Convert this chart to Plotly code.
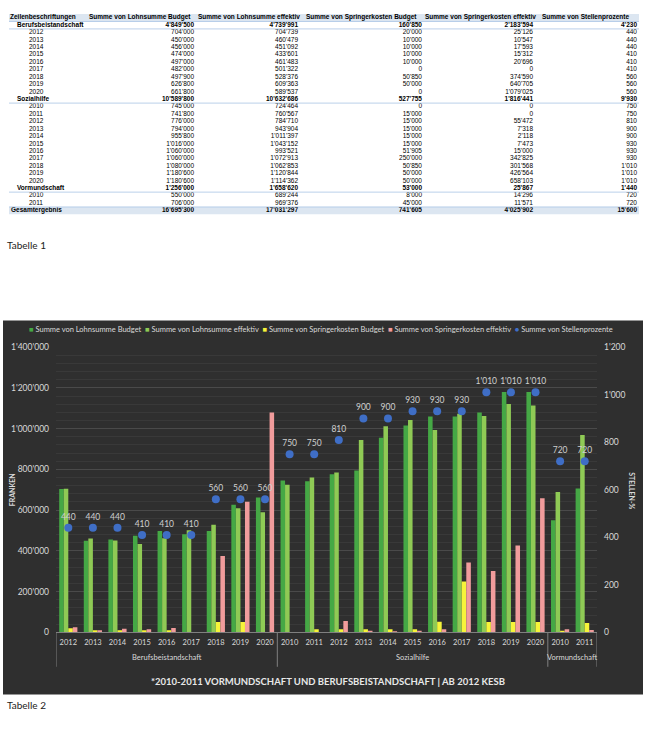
import plotly.graph_objects as go

# ---------------- data ----------------
groups = ["Berufsbeistandschaft"] * 9 + ["Sozialhilfe"] * 11 + ["Vormundschaft"] * 2
years = ["2012", "2013", "2014", "2015", "2016", "2017", "2018", "2019", "2020",
         "2010", "2011", "2012", "2013", "2014", "2015", "2016", "2017", "2018", "2019", "2020",
         "2010", "2011"]
lohn_budget = [704000, 450000, 456000, 474000, 497000, 482000, 497900, 626800, 661800,
               745000, 741800, 776000, 794000, 955800, 1016000, 1060000, 1060000, 1080000, 1180600, 1180600,
               550000, 706000]
lohn_eff = [704739, 460479, 451092, 433601, 461483, 501322, 528376, 609363, 589537,
            724464, 760567, 784710, 943904, 1011397, 1043152, 993521, 1072913, 1062853, 1120844, 1114362,
            689244, 969376]
springer_budget = [20000, 10000, 10000, 10000, 10000, 0, 50850, 50000, 0,
                   0, 15000, 15000, 15000, 15000, 15000, 51905, 250000, 50850, 50000, 50000,
                   8000, 45000]
springer_eff = [25126, 10547, 17593, 15312, 20696, 0, 374590, 640705, 1079025,
                0, 0, 55472, 7318, 2118, 7473, 15000, 342825, 301568, 426564, 658103,
                14296, 11571]
stellen = [440, 440, 440, 410, 410, 410, 560, 560, 560,
           750, 750, 810, 900, 900, 930, 930, 930, 1010, 1010, 1010,
           720, 720]

group_names = ["Berufsbeistandschaft", "Sozialhilfe", "Vormundschaft"]
group_lohn_budget = [4849500, 10589800, 1256000]
group_lohn_eff = [4739991, 10632686, 1658620]
group_springer_budget = [160850, 527755, 53000]
group_springer_eff = [2183594, 1816441, 25867]
group_stellen = [4230, 9930, 1440]
grand_total = [16695300, 17031297, 741605, 4025902, 15600]

series_names = ["Summe von Lohnsumme Budget", "Summe von Lohnsumme effektiv",
                "Summe von Springerkosten Budget", "Summe von Springerkosten effektiv",
                "Summe von Stellenprozente"]
row_header = "Zeilenbeschriftungen"
total_label = "Gesamtergebnis"
chart_note = "*2010-2011 VORMUNDSCHAFT UND BERUFSBEISTANDSCHAFT | AB 2012 KESB"
left_title = "FRANKEN"
right_title = "STELLEN-%"
caption1 = "Tabelle 1"
caption2 = "Tabelle 2"

# ---------------- styles ----------------
W, H = 651, 729
colors = ["#45a845", "#8fca55", "#f6f43a", "#f19c9c", "#3f6ec6"]
FONT = "Lato, 'Open Sans', sans-serif"
TFONT = "'Liberation Sans', Arial, sans-serif"
light = "#d9d9d9"


def px_x(p):
    return p / W


def px_y(p):
    return (H - p) / H


def fmt(n):
    return f"{n:,}".replace(",", "'")


fig = go.Figure()

# ---------------- table (Tabelle 1) ----------------
series_cols = [lohn_budget, lohn_eff, springer_budget, springer_eff, stellen]
group_cols = [group_lohn_budget, group_lohn_eff, group_springer_budget, group_springer_eff, group_stellen]

labels, kinds, cols_text = [], [], [[] for _ in range(5)]
start = 0
for gi, g in enumerate(group_names):
    labels.append(g)
    kinds.append("group")
    for c in range(5):
        cols_text[c].append(fmt(group_cols[c][gi]))
    n = groups.count(g)
    for i in range(start, start + n):
        labels.append(years[i])
        kinds.append("item")
        for c in range(5):
            cols_text[c].append(fmt(series_cols[c][i]))
    start += n
labels.append(total_label)
kinds.append("total")
for c in range(5):
    cols_text[c].append(fmt(grand_total[c]))

rows = list(range(1, len(labels) + 1))
nrows = len(labels) + 1
indent = {"group": 17, "item": 29, "total": 11}


def b(t, k):
    return f"<b>{t}</b>" if k != "item" else t


TS = 6.5
fig.add_trace(go.Scatter(
    x=[indent[k] for k in kinds], y=rows, mode="text",
    text=[b(t, k) for t, k in zip(labels, kinds)], textposition="middle right",
    textfont=dict(family=TFONT, size=TS, color="#000000"),
    xaxis="x2", yaxis="y3", showlegend=False, hoverinfo="skip"))
num_right = [194, 298, 422, 533, 637]
for c in range(5):
    fig.add_trace(go.Scatter(
        x=[num_right[c]] * len(rows), y=rows, mode="text",
        text=[b(t, k) for t, k in zip(cols_text[c], kinds)], textposition="middle left",
        textfont=dict(family=TFONT, size=TS, color="#000000"),
        xaxis="x2", yaxis="y3", showlegend=False, hoverinfo="skip"))
head_left = [10, 89, 198, 306, 425, 542]
fig.add_trace(go.Scatter(
    x=head_left, y=[0] * 6, mode="text",
    text=[f"<b>{t}</b>" for t in [row_header] + series_names], textposition="middle right",
    textfont=dict(family=TFONT, size=TS, color="#000000"),
    xaxis="x2", yaxis="y3", showlegend=False, hoverinfo="skip"))

shapes = []
for r in (0, nrows - 1):
    shapes.append(dict(type="rect", xref="x2", yref="y3", x0=9, x1=639, y0=r - 0.5, y1=r + 0.5,
                       fillcolor="#dce6f1", line=dict(width=0), layer="below"))
group_rows = [i + 1 for i, k in enumerate(kinds) if k == "group"]
for r in [0] + group_rows + [nrows - 2]:
    shapes.append(dict(type="line", xref="x2", yref="y3", x0=9, x1=639, y0=r + 0.5, y1=r + 0.5,
                       line=dict(color="#a9c4e4", width=0.8)))

# ---------------- chart (Tabelle 2) ----------------
xpos = list(range(len(years)))
bar_vals = [lohn_budget, lohn_eff, springer_budget, springer_eff]
for i, vals in enumerate(bar_vals):
    fig.add_trace(go.Bar(x=xpos, y=vals, name=series_names[i], marker=dict(color=colors[i], line=dict(width=0)),
                         xaxis="x", yaxis="y", showlegend=False))
fig.add_trace(go.Scatter(x=xpos, y=stellen, name=series_names[4], mode="markers+text",
                         marker=dict(color=colors[4], size=8),
                         text=[fmt(v) for v in stellen], textposition="top center",
                         textfont=dict(family=FONT, size=8.5, color="#cfcfcf"),
                         xaxis="x", yaxis="y2", showlegend=False, cliponaxis=False))

# dark panel
shapes.insert(0, dict(type="rect", xref="paper", yref="paper", x0=px_x(3), x1=px_x(643),
                      y0=px_y(699), y1=px_y(320), fillcolor="#2f2f2f", line=dict(width=0), layer="below"))

# group labels and dividers on the category axis
annotations = []
bounds = [-0.5]
for g in group_names:
    idx = [i for i, gg in enumerate(groups) if gg == g]
    annotations.append(dict(text=g, x=sum(idx) / len(idx), y=px_y(662), xref="x", yref="paper",
                            yanchor="middle", showarrow=False, font=dict(family=FONT, size=7.5, color=light)))
    bounds.append(idx[-1] + 0.5)
for bx in bounds:
    shapes.append(dict(type="line", xref="x", yref="paper", x0=bx, x1=bx, y0=px_y(636), y1=px_y(671),
                       line=dict(color="#808080", width=1)))

legend_txt = "\u00a0\u00a0".join(
    f"<span style='color:{colors[i]}'>{'●' if i == 4 else '■'}</span>\u00a0{series_names[i]}" for i in range(5))


def note(text, x, y, size, color, angle=0, xanchor="center"):
    return dict(text=text, x=px_x(x), y=px_y(y), xref="paper", yref="paper", showarrow=False,
                xanchor=xanchor, yanchor="middle", textangle=angle,
                font=dict(family=FONT, size=size, color=color))


annotations += [
    note(legend_txt, 321, 329, 7.5, light),
    note(f"<b>{left_title}</b>", 12, 492, 7, light, angle=-90),
    note(f"<b>{right_title}</b>", 632, 492, 7, light, angle=90),
    note(f"<b>{chart_note}</b>", 328, 686, 9.5, "#e8e8e8"),
    note(caption1, 5, 243, 10, "#222222", xanchor="left"),
    note(caption2, 5, 710, 10, "#222222", xanchor="left"),
]

fig.update_layout(
    width=W, height=H, margin=dict(l=0, r=0, t=0, b=0),
    paper_bgcolor="white", plot_bgcolor="rgba(0,0,0,0)",
    separators=".'", barmode="group", bargap=0.26, bargroupgap=0,
    font=dict(family=FONT, color=light),
    shapes=shapes, annotations=annotations, showlegend=False,
    xaxis=dict(domain=[px_x(56), px_x(597)], anchor="y", range=[-0.5, len(years) - 0.5],
               tickmode="array", tickvals=xpos, ticktext=years, tickangle=0,
               showline=True, linecolor="#808080", linewidth=1, showgrid=False, zeroline=False,
               ticks="", ticklabelstandoff=3,
               tickfont=dict(family=FONT, size=7.5, color=light)),
    yaxis=dict(domain=[px_y(636), px_y(347)], anchor="x", range=[0, 1400000], dtick=200000,
               tickformat=",d", showgrid=True, gridcolor="#4a4a4a", gridwidth=1, zeroline=False,
               minor=dict(dtick=40000, showgrid=True, gridcolor="#393939", gridwidth=1),
               tickfont=dict(family=FONT, size=8.5, color=light), ticks="", ticklabelstandoff=6),
    yaxis2=dict(overlaying="y", side="right", anchor="x", range=[0, 1200], dtick=200, tickformat=",d",
                showgrid=False, zeroline=False, tickfont=dict(family=FONT, size=8.5, color=light),
                ticks="", ticklabelstandoff=6),
    xaxis2=dict(domain=[0, 1], range=[0, W], anchor="y3", visible=False),
    yaxis3=dict(domain=[px_y(212.3), px_y(9.2)], range=[nrows - 0.5, -0.5], anchor="x2", visible=False),
)

fig.write_html("out.html")
